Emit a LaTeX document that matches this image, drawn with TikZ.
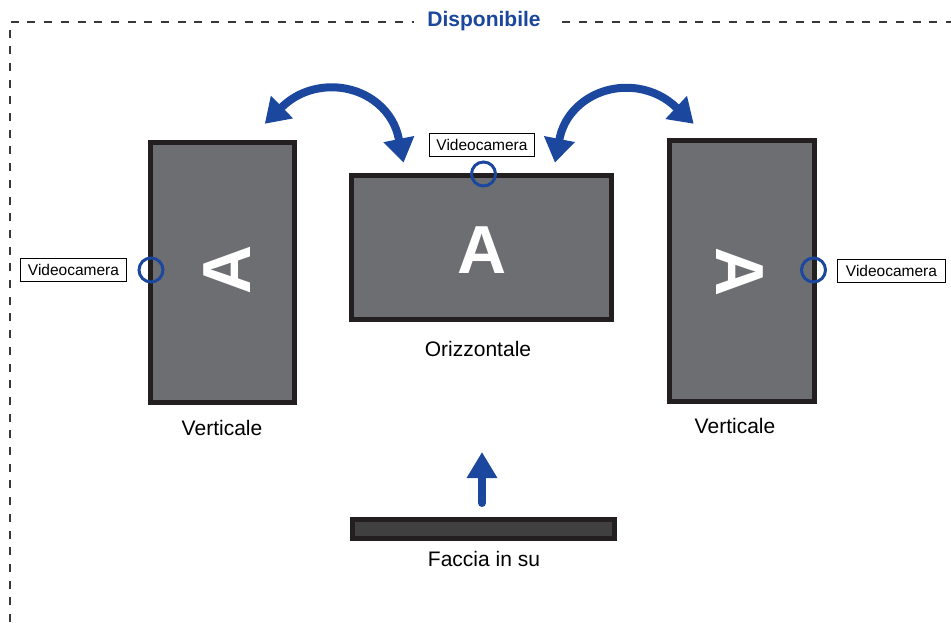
\documentclass[tikz,border=0pt]{standalone}
\usepackage{fontspec}
\setmainfont{Liberation Sans}
\usetikzlibrary{arrows.meta}
\definecolor{camblue}{RGB}{27,72,158}
\definecolor{screengray}{RGB}{109,110,113}
\definecolor{bezel}{RGB}{35,31,32}
\tikzset{
  screen/.style={draw=bezel, line width=5pt, fill=screengray, inner sep=0pt},
  camring/.style={draw=camblue, line width=3pt, circle, minimum size=24pt, inner sep=0pt},
  camtag/.style={draw, line width=.8pt, fill=white, inner sep=0pt, minimum height=23pt, minimum width=106pt, font=\fontsize{15.5}{18}\selectfont},
  caption/.style={font=\fontsize{21}{25}\selectfont, inner sep=0pt},
  letterA/.style={text=white, font=\fontsize{68}{70}\selectfont\bfseries, inner sep=0pt},
  swing/.style={camblue, line width=8pt, {Triangle[width=30pt,length=24pt]}-{Triangle[width=30pt,length=24pt]}},
}
\begin{document}
\begin{tikzpicture}[x=1pt,y=-1pt]
  \useasboundingbox (0,0) rectangle (951,622);
  % frame
  \draw[dash pattern=on 8pt off 8.7pt, line width=2pt, black!78] (10,622) -- (10,21.5) -- (951,21.5);
  \node[fill=white, inner xsep=13pt, inner ysep=2pt, text=camblue, font=\fontsize{21}{25}\selectfont\bfseries] (avail) at (484,21.5) {Disponibile};
  % screens
  \node[screen, minimum width=144pt, minimum height=260pt] (vleft) at (222.5,272.5) {};
  \node[screen, minimum width=260pt, minimum height=144pt] (horiz) at (481.5,247.5) {};
  \node[screen, minimum width=145pt, minimum height=261pt] (vright) at (742,271) {};
  \node[screen, fill=black!75, minimum width=262pt, minimum height=19pt] (flat) at (483.5,529) {};
  \node[letterA, rotate=90] (aleft) at (227,270) {A};
  \node[letterA] (amid) at (482,250) {A};
  \node[letterA, rotate=-90] (aright) at (740,272) {A};
  % cameras
  \node[camring] (camleft) at (151,270) {};
  \node[camring] (cammid) at (483.5,174) {};
  \node[camring] (camright) at (813.5,270) {};
  \node[camtag] (tagleft) at (73.5,270) {Videocamera};
  \node[camtag, minimum width=105pt] (tagmid) at (482,144.5) {Videocamera};
  \node[camtag, minimum width=108pt] (tagright) at (891.5,270.5) {Videocamera};
  % captions
  \node[caption] (capleft) at (222,428) {Verticale};
  \node[caption] (capmid) at (478,349) {Orizzontale};
  \node[caption] (capright) at (735,426) {Verticale};
  \node[caption] (capflat) at (484,559) {Faccia in su};
  % rotation arrows
  \coordinate (l1) at (264.8,123.8); \coordinate (l2) at (403.6,162.6);
  \coordinate (r1) at (554.9,162.6); \coordinate (r2) at (693.7,123.8);
  \draw[swing] (l1) -- (282,107) arc[start angle=137, end angle=10, x radius=68pt, y radius=62pt] -- (l2);
  \draw[swing] (r1) -- (559.5,139) arc[start angle=170, end angle=43, x radius=68pt, y radius=62pt] -- (r2);
  % face up
  \coordinate (upfoot) at (482,503); \coordinate (uptip) at (482,452);
  \draw[camblue, line width=8pt, line cap=round, -{Triangle[width=29pt,length=26pt]}] (upfoot) -- (uptip);
\end{tikzpicture}
\end{document}
